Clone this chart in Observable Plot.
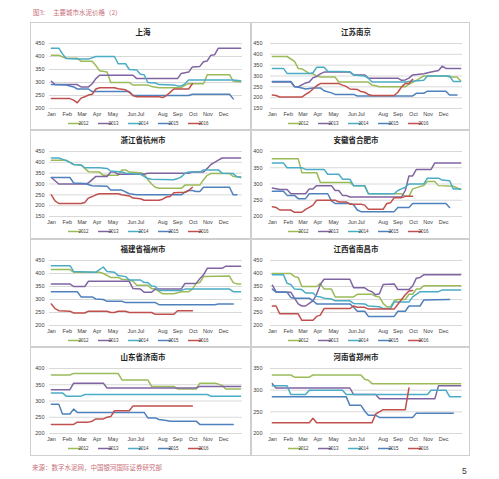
<!DOCTYPE html>
<html><head><meta charset="utf-8">
<script src="https://cdn.jsdelivr.net/npm/d3@7"></script>
<script src="https://cdn.jsdelivr.net/npm/@observablehq/plot@0.6"></script>
<style>
body{margin:0;background:#fff;width:499px;height:479px;position:relative;overflow:hidden;font-family:"Noto Sans CJK SC","Liberation Sans",sans-serif;}
.abs{position:absolute;white-space:nowrap;}
</style></head><body>
<div class="abs" style="left:33px;top:8px;font-size:6.5px;color:#c8707a;line-height:8px;">图3:</div>
<div class="abs" style="left:53px;top:8px;font-size:6.5px;color:#c8707a;line-height:8px;">主要城市水泥价格（2）</div>
<div id="charts"></div>
<div class="abs" style="left:32px;top:463px;font-size:6.5px;color:#c8707a;line-height:8px;">来源：数字水泥网，中国银河国际证券研究部</div>
<div class="abs" style="left:462px;top:466px;font-size:8.5px;color:#333;line-height:10px;font-family:'Liberation Sans',sans-serif;">5</div>
<script>
const years = ["2012","2013","2014","2015","2016"];
const months = ["Jan","Feb","Mar","Apr","May","Jun","Jul","Aug","Sep","Oct","Nov","Dec"];
const monthWeeks = [0,4.3,8.3,12.3,16.6,21.7,24.1,30,34,38.2,42.2,46.4];
const cityNames = ["上海","江苏南京","浙江省杭州市","安徽省合肥市","福建省福州市","江西省南昌市","山东省济南市","河南省郑州市"];

const shanghaiTicks = [200,250,300,350,400,450];
const nanjingTicks = [150,200,250,300,350,400,450];
const hangzhouTicks = [150,200,250,300,350,400,450];
const hefeiTicks = [200,250,300,350,400];
const fuzhouTicks = [200,250,300,350,400,450];
const nanchangTicks = [200,250,300,350,400,450];
const jinanTicks = [200,250,300,350,400];
const zhengzhouTicks = [200,250,300,350];

// [week, price] breakpoints per series, order 2012..2016
const shanghai = [
 [[0,405],[2,405],[4,393],[7,393],[8,382],[11,382],[12,365],[13,345],[15,340],[16,300],[21,300],[22,290],[26,290],[27,285],[29,280],[35,280],[36,290],[37,295],[41,295],[42,330],[48,330],[49,305],[51,303]],
 [[0,305],[1,292],[7,292],[8,283],[10,283],[11,295],[12,315],[13,328],[22,328],[23,315],[34,315],[35,335],[37,340],[38,360],[40,362],[41,380],[42,383],[43,405],[44,407],[45,432],[51,432]],
 [[0,432],[2,432],[3,410],[4,392],[7,390],[10,390],[12,400],[17,400],[18,372],[20,372],[21,350],[23,348],[24,332],[25,330],[26,300],[28,298],[29,292],[33,290],[34,287],[35,287],[36,295],[37,310],[49,310],[51,307]],
 [[0,292],[4,290],[6,283],[7,275],[10,275],[11,265],[21,265],[22,250],[37,250],[38,255],[48,255],[49,237]],
 [[0,238],[5,238],[6,232],[7,222],[8,240],[9,245],[10,252],[11,255],[12,275],[13,280],[17,280],[18,276],[20,272],[21,262],[22,250],[23,245],[29,245],[30,242],[31,250],[32,262],[33,275],[37,275],[38,295]]
];
const nanjing = [
 [[0,390],[4,390],[6,368],[7,335],[8,333],[10,312],[11,310],[12,300],[13,295],[17,295],[18,272],[26,272],[27,258],[28,255],[29,250],[36,250],[37,262],[39,280],[40,290],[41,300],[47,300],[48,295],[50,295],[51,278]],
 [[0,272],[5,272],[6,250],[7,250],[9,268],[10,272],[11,292],[12,298],[13,310],[14,318],[21,318],[22,305],[25,305],[26,290],[34,290],[35,280],[36,282],[37,290],[38,305],[41,310],[43,318],[45,325],[46,345],[47,335],[51,335]],
 [[0,335],[3,335],[4,312],[10,312],[11,315],[12,340],[14,340],[15,322],[21,320],[22,305],[25,300],[26,290],[27,272],[36,272],[37,275],[41,280],[42,300],[48,300],[49,275],[51,275]],
 [[0,275],[5,275],[6,252],[8,245],[9,240],[11,245],[13,245],[14,232],[16,222],[17,215],[22,215],[23,208],[38,208],[39,220],[41,220],[42,230],[47,230],[48,212],[50,212]],
 [[0,212],[1,210],[2,203],[8,203],[9,215],[10,225],[12,255],[13,265],[18,265],[19,258],[20,252],[21,240],[23,238],[24,228],[25,225],[26,215],[27,210],[33,210],[34,225],[35,250],[36,265],[37,265],[38,285]]
];
const hangzhou = [
 [[0,410],[4,410],[5,400],[6,390],[8,388],[9,372],[10,357],[13,355],[14,340],[18,340],[19,365],[20,365],[21,355],[24,352],[25,345],[26,320],[27,300],[28,285],[29,280],[35,280],[36,295],[40,295],[41,320],[42,340],[43,348],[48,348],[49,335],[51,333]],
 [[0,330],[1,315],[2,300],[9,300],[10,305],[12,335],[15,335],[16,355],[17,355],[18,345],[25,345],[26,350],[37,350],[38,355],[41,355],[42,372],[43,390],[44,400],[45,410],[46,420],[51,420]],
 [[0,420],[2,420],[4,408],[5,400],[6,390],[8,388],[9,375],[13,375],[15,372],[16,360],[19,355],[20,350],[24,345],[25,335],[26,325],[27,322],[33,320],[34,325],[35,332],[36,350],[37,355],[40,355],[41,365],[45,365],[46,350],[49,348],[50,333],[51,330]],
 [[0,330],[5,330],[6,305],[9,302],[11,292],[15,290],[16,272],[19,272],[21,255],[22,253],[23,250],[35,250],[36,262],[37,270],[38,270],[39,265],[40,265],[41,285],[48,285],[49,250],[50,250]],
 [[0,250],[1,222],[2,210],[8,210],[9,215],[10,235],[11,242],[12,250],[13,255],[18,255],[19,250],[21,245],[22,235],[24,232],[25,225],[29,225],[30,230],[31,240],[32,242],[33,260],[36,262],[37,270],[38,285]]
];
const hefei = [
 [[0,378],[7,378],[8,335],[12,335],[13,305],[21,305],[22,295],[25,295],[26,270],[35,270],[36,262],[37,262],[38,285],[40,292],[41,295],[42,308],[44,308],[45,295],[49,293],[51,283]],
 [[0,288],[2,283],[4,283],[5,270],[9,270],[10,285],[11,285],[12,295],[16,295],[17,280],[18,280],[19,265],[20,265],[21,260],[35,260],[36,280],[37,325],[38,325],[39,345],[43,345],[44,365],[51,365]],
 [[0,365],[3,365],[4,350],[8,350],[9,345],[14,345],[15,330],[18,330],[19,315],[21,315],[22,295],[25,295],[26,270],[33,270],[34,280],[35,285],[36,290],[37,300],[41,300],[42,318],[45,318],[46,312],[48,310],[49,285],[51,285]],
 [[0,278],[3,278],[4,265],[6,265],[7,255],[9,255],[10,270],[15,270],[16,248],[17,240],[21,240],[22,236],[23,220],[24,215],[33,215],[34,228],[37,228],[38,240],[47,240],[48,228]],
 [[0,230],[1,228],[2,220],[5,220],[6,213],[8,213],[9,222],[10,228],[11,235],[12,250],[17,250],[18,245],[20,245],[21,238],[24,238],[25,235],[26,222],[30,222],[31,240],[32,242],[33,258],[35,258],[36,262],[38,262]]
];
const fuzhou = [
 [[0,415],[5,415],[6,405],[13,405],[14,400],[16,385],[18,385],[19,378],[21,375],[22,370],[23,355],[26,355],[27,342],[28,340],[30,322],[33,322],[35,330],[37,330],[38,340],[39,362],[40,365],[41,388],[48,390],[49,365],[50,360],[51,360]],
 [[0,360],[5,360],[6,350],[9,350],[10,370],[21,370],[22,342],[24,340],[25,328],[27,328],[28,340],[35,340],[36,362],[39,362],[40,380],[41,395],[42,420],[46,420],[47,428],[51,428]],
 [[0,430],[5,430],[6,408],[12,405],[14,425],[15,408],[17,405],[18,392],[20,388],[21,375],[24,375],[25,365],[26,365],[27,352],[28,350],[29,335],[35,335],[36,340],[48,340],[49,330],[51,330]],
 [[0,330],[7,330],[8,310],[11,310],[12,302],[14,300],[15,293],[19,293],[20,288],[28,288],[29,280],[44,280],[45,283],[49,283]],
 [[0,283],[1,265],[2,257],[5,255],[6,248],[9,248],[10,255],[15,255],[16,250],[17,250],[18,255],[20,255],[21,250],[27,250],[28,243],[33,243],[34,257],[38,257]]
];
const nanchang = [
 [[0,400],[5,400],[6,388],[7,385],[8,350],[12,350],[13,362],[14,340],[16,340],[17,310],[22,310],[23,320],[27,320],[28,312],[29,310],[30,285],[31,272],[32,272],[33,295],[34,300],[36,300],[37,320],[38,320],[39,340],[40,340],[41,353],[51,353]],
 [[0,355],[1,330],[5,328],[6,305],[7,283],[8,275],[9,275],[10,285],[11,295],[12,320],[13,358],[14,378],[21,378],[22,345],[25,345],[26,335],[27,330],[28,318],[29,322],[30,358],[33,360],[34,338],[37,338],[38,352],[39,382],[40,385],[41,395],[51,395]],
 [[0,395],[3,395],[4,362],[5,358],[6,340],[8,338],[9,325],[11,325],[12,312],[13,310],[14,305],[16,302],[17,295],[21,295],[22,285],[25,283],[26,275],[29,272],[30,265],[32,265],[33,290],[37,290],[38,310],[39,320],[40,330],[45,330],[46,337],[51,337]],
 [[0,340],[1,328],[4,328],[5,308],[6,305],[10,305],[11,295],[12,283],[21,283],[22,270],[23,255],[25,255],[26,235],[33,235],[34,255],[36,255],[37,275],[40,275],[41,298],[48,300]],
 [[0,275],[1,275],[2,245],[7,245],[8,220],[11,220],[12,235],[13,240],[14,265],[21,265],[22,275],[23,270],[25,270],[26,263],[33,263],[34,282],[35,300],[36,318],[37,333],[38,335]]
];
const jinan = [
 [[0,380],[5,380],[6,385],[18,385],[19,365],[26,365],[27,345],[33,345],[34,337],[39,337],[40,355],[44,355],[45,352],[46,348],[47,337],[51,337]],
 [[0,335],[5,335],[6,355],[14,355],[15,340],[39,340],[40,345],[51,345]],
 [[0,325],[3,325],[4,315],[8,315],[9,320],[42,320],[43,315],[51,315]],
 [[0,290],[2,290],[3,260],[5,260],[6,275],[7,265],[25,265],[26,248],[28,248],[29,243],[31,240],[32,238],[39,238],[40,228],[49,228]],
 [[0,228],[6,228],[7,235],[10,235],[11,238],[12,245],[14,245],[15,250],[16,252],[17,270],[21,270],[22,285],[38,285]]
];
const zhengzhou = [
 [[0,335],[5,335],[6,330],[10,330],[11,335],[24,335],[25,325],[26,323],[27,315],[51,315]],
 [[0,315],[1,305],[21,305],[22,290],[28,290],[29,280],[44,280],[45,310],[51,310]],
 [[0,310],[4,310],[5,290],[9,290],[10,300],[19,300],[20,290],[42,290],[43,300],[47,300],[48,285],[51,285]],
 [[0,285],[20,285],[21,265],[24,265],[25,252],[26,242],[28,242],[29,237],[38,237],[39,247],[49,247]],
 [[0,225],[10,225],[11,235],[12,225],[27,225],[28,245],[29,250],[30,255],[36,255],[37,305]]
];

const panelSeries = [shanghai,nanjing,hangzhou,hefei,fuzhou,nanchang,jinan,zhengzhou];
const panelTicks = [shanghaiTicks,nanjingTicks,hangzhouTicks,hefeiTicks,fuzhouTicks,nanchangTicks,jinanTicks,zhengzhouTicks];

const yearColors = ["#9bbb59","#8064a2","#4bacc6","#4f81bd","#c0504d"];
const rowTops = [22,130,239,347];
const rowHeights = [108,109,108,109];
const container = document.getElementById("charts");

panelSeries.forEach((series, i) => {
  const col = i % 2, row = Math.floor(i / 2);
  const left = col ? 251 : 30;
  const w = col ? 219 : 221;
  const h = rowHeights[row];
  const ticks = panelTicks[i];
  const rows = series.flatMap((s, k) => s.map(([week, price]) => ({week, price, year: years[k]})));
  const svg = Plot.plot({
    width: w, height: h,
    marginTop: 21, marginBottom: h - 86,
    marginLeft: 19, marginRight: col ? 8 : 9,
    x: {domain: [-0.5, 51.5], axis: null},
    y: {domain: [d3.min(ticks), d3.max(ticks)], axis: null},
    color: {domain: years, range: yearColors},
    style: {fontFamily: '"Liberation Sans", Arial, sans-serif', fontSize: "5.5px", color: "#404040", background: "#fff", overflow: "visible"},
    marks: [
      Plot.gridY(ticks, {stroke: "#d9d9d9", strokeOpacity: 1}),
      Plot.axisY(ticks, {tickSize: 0, tickPadding: col ? 8 : 5, fill: "#404040", label: null}),
      Plot.axisX(monthWeeks, {tickSize: 0, tickPadding: 4, fill: "#404040", label: null, tickFormat: d => months[monthWeeks.indexOf(d)]}),
      Plot.line(rows, {x: "week", y: "price", z: "year", stroke: "year", strokeWidth: 1.5, curve: "linear"})
    ]
  });
  const sel = d3.select(svg);
  sel.append("rect").attr("x", 0.5).attr("y", 0.5).attr("width", w - 1).attr("height", h - 1)
    .attr("fill", "none").attr("stroke", "#cfcfcf");
  sel.append("text").attr("x", col ? 105 : 113).attr("y", 10.5)
    .attr("text-anchor", "middle").attr("dominant-baseline", "middle")
    .style("font-family", '"Noto Sans CJK SC", sans-serif').style("font-size", "7.5px").style("font-weight", "bold")
    .attr("fill", "#222").text(cityNames[i]);
  const lg = sel.append("g").attr("transform", `translate(${col ? 37 : 38},101.5)`);
  years.forEach((y, k) => {
    const g = lg.append("g").attr("transform", `translate(${k * 30},0)`);
    g.append("line").attr("x1", 0).attr("x2", 14).attr("y1", 0).attr("y2", 0)
      .attr("stroke", yearColors[k]).attr("stroke-width", 1.5);
    g.append("text").attr("x", 15.5).attr("y", 0).attr("dominant-baseline", "middle")
      .style("font-size", "4.5px").attr("fill", "#404040").text(y);
  });
  const div = document.createElement("div");
  div.className = "abs";
  div.style.left = left + "px";
  div.style.top = rowTops[row] + "px";
  div.appendChild(svg);
  container.appendChild(div);
});
</script>
</body></html>
